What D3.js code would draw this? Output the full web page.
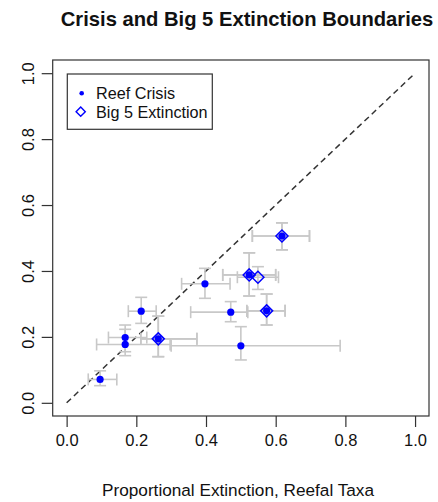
<!DOCTYPE html>
<html>
<head>
<meta charset="utf-8">
<script src="https://cdn.jsdelivr.net/npm/d3@7"></script>
<style>
  html, body { margin: 0; padding: 0; background: #fff; }
  svg { display: block; font-family: "Liberation Sans", Arial, sans-serif; }
</style>
</head>
<body>
<svg id="chart" width="438" height="502"></svg>
<script>
// Reef crisis intervals: proportional extinction of reefal taxa (x) vs all taxa (y), with ranges
const crisisX    = [0.096, 0.168, 0.168, 0.214, 0.263, 0.397, 0.471, 0.500, 0.524, 0.574, 0.618];
const crisisXLo  = [0.062, 0.120, 0.086, 0.177, 0.213, 0.330, 0.356, 0.300, 0.448, 0.517, 0.533];
const crisisXHi  = [0.144, 0.230, 0.297, 0.257, 0.374, 0.469, 0.520, 0.785, 0.600, 0.627, 0.697];
const crisisY    = [0.071, 0.198, 0.177, 0.278, 0.194, 0.361, 0.275, 0.173, 0.388, 0.279, 0.506];
const crisisYLo  = [0.052, 0.155, 0.143, 0.241, 0.140, 0.317, 0.246, 0.130, 0.324, 0.236, 0.464];
const crisisYHi  = [0.097, 0.236, 0.223, 0.320, 0.263, 0.408, 0.307, 0.231, 0.455, 0.330, 0.546];

// Big 5 extinction boundaries
const big5X   = [0.263, 0.524, 0.549, 0.574, 0.618];
const big5XLo = [0.213, 0.448, 0.490, 0.517, 0.533];
const big5XHi = [0.374, 0.600, 0.608, 0.627, 0.697];
const big5Y   = [0.194, 0.388, 0.381, 0.279, 0.506];
const big5YLo = [0.140, 0.324, 0.344, 0.236, 0.464];
const big5YHi = [0.263, 0.455, 0.413, 0.330, 0.546];

const tickValues = [0, 0.2, 0.4, 0.6, 0.8, 1.0];
const legendLabels = ["Reef Crisis", "Big 5 Extinction"];

const svg = d3.select("#chart");
const blue = "#0000ff";
const ink = "#333";
const barColor = "#c8c8c8";
const labelFont = 16.5;

// R-style 4% padding around the 0..1 range
const x = d3.scaleLinear().domain([-0.04, 1.04]).range([52.7, 429]);
const y = d3.scaleLinear().domain([-0.04, 1.04]).range([416, 60]);

// Title
svg.append("text")
  .attr("x", 247)
  .attr("y", 26)
  .attr("text-anchor", "middle")
  .attr("font-weight", "bold")
  .attr("font-size", 20.2)
  .attr("fill", "#111")
  .text("Crisis and Big 5 Extinction Boundaries");

// 1:1 reference line
svg.append("line")
  .attr("x1", x(0)).attr("y1", y(0))
  .attr("x2", x(1)).attr("y2", y(1))
  .attr("stroke", ink).attr("stroke-width", 1.5)
  .attr("stroke-dasharray", "6,4");

// Error bars
function drawBars(xs, xlo, xhi, ys, ylo, yhi) {
  const cap = 6;
  const g = svg.append("g").attr("stroke", barColor).attr("stroke-width", 1.6).attr("fill", "none");
  xs.forEach((v, i) => {
    const cx = x(v), cy = y(ys[i]);
    // horizontal
    g.append("line").attr("x1", x(xlo[i])).attr("x2", x(xhi[i])).attr("y1", cy).attr("y2", cy);
    g.append("line").attr("x1", x(xlo[i])).attr("x2", x(xlo[i])).attr("y1", cy - cap).attr("y2", cy + cap);
    g.append("line").attr("x1", x(xhi[i])).attr("x2", x(xhi[i])).attr("y1", cy - cap).attr("y2", cy + cap);
    // vertical
    g.append("line").attr("x1", cx).attr("x2", cx).attr("y1", y(ylo[i])).attr("y2", y(yhi[i]));
    g.append("line").attr("x1", cx - cap).attr("x2", cx + cap).attr("y1", y(ylo[i])).attr("y2", y(ylo[i]));
    g.append("line").attr("x1", cx - cap).attr("x2", cx + cap).attr("y1", y(yhi[i])).attr("y2", y(yhi[i]));
  });
}
drawBars(crisisX, crisisXLo, crisisXHi, crisisY, crisisYLo, crisisYHi);
drawBars(big5X, big5XLo, big5XHi, big5Y, big5YLo, big5YHi);

// Points
svg.append("g").selectAll("circle")
  .data(crisisX.map((v, i) => [v, crisisY[i]]))
  .join("circle")
  .attr("cx", d => x(d[0])).attr("cy", d => y(d[1]))
  .attr("r", 3.6).attr("fill", blue);

const diamond = (cx, cy, h) => `M${cx},${cy - h}L${cx + h},${cy}L${cx},${cy + h}L${cx - h},${cy}Z`;
svg.append("g").selectAll("path")
  .data(big5X.map((v, i) => [v, big5Y[i]]))
  .join("path")
  .attr("d", d => diamond(x(d[0]), y(d[1]), 6))
  .attr("fill", "none").attr("stroke", blue).attr("stroke-width", 1.5);

// Plot box
svg.append("rect")
  .attr("x", x.range()[0]).attr("y", y.range()[1])
  .attr("width", x.range()[1] - x.range()[0])
  .attr("height", y.range()[0] - y.range()[1])
  .attr("fill", "none").attr("stroke", ink).attr("stroke-width", 1.2);

// Axes
const fmt = d3.format(".1f");
const xAxis = svg.append("g")
  .attr("transform", `translate(0,${y.range()[0]})`)
  .call(d3.axisBottom(x).tickValues(tickValues).tickFormat(fmt).tickSize(11).tickPadding(7.5));
xAxis.select(".domain").remove();
xAxis.selectAll("line").attr("stroke", ink).attr("stroke-width", 1.2);
xAxis.selectAll("text").attr("font-size", labelFont).attr("fill", "#111")
  .attr("font-family", "Liberation Sans, Arial, sans-serif");

const yAxis = svg.append("g")
  .attr("transform", `translate(${x.range()[0]},0)`)
  .call(d3.axisLeft(y).tickValues(tickValues).tickFormat(fmt).tickSize(11));
yAxis.select(".domain").remove();
yAxis.selectAll("line").attr("stroke", ink).attr("stroke-width", 1.2);
yAxis.selectAll("text")
  .attr("x", null).attr("dy", null)
  .attr("text-anchor", "middle")
  .attr("transform", `translate(${34 - x.range()[0]},0) rotate(-90)`)
  .attr("font-size", labelFont).attr("fill", "#111")
  .attr("font-family", "Liberation Sans, Arial, sans-serif");

// X axis title
svg.append("text")
  .attr("x", 238)
  .attr("y", 496)
  .attr("text-anchor", "middle")
  .attr("font-size", 17.2)
  .attr("fill", "#111")
  .text("Proportional Extinction, Reefal Taxa");

// Legend
const leg = svg.append("g");
leg.append("rect")
  .attr("x", 67.3).attr("y", 74).attr("width", 145).attr("height", 55.3)
  .attr("fill", "#fff").attr("stroke", ink).attr("stroke-width", 1.2);
leg.append("circle").attr("cx", 81.7).attr("cy", 93.3).attr("r", 2.3).attr("fill", blue);
leg.append("path").attr("d", diamond(80.7, 111.7, 4.6))
  .attr("fill", "none").attr("stroke", blue).attr("stroke-width", 1.4);
leg.selectAll("text.lbl")
  .data(legendLabels)
  .join("text")
  .attr("class", "lbl")
  .attr("x", 96)
  .attr("y", (d, i) => [93.3, 111.7][i] + 5.8)
  .attr("font-size", 16.2)
  .attr("fill", "#111")
  .text(d => d);
</script>
</body>
</html>
